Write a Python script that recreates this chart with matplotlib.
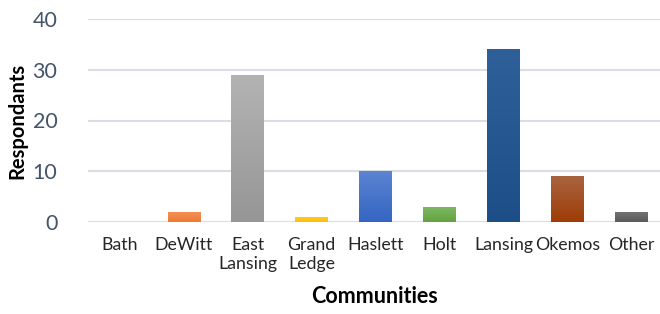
import numpy as np
import matplotlib
matplotlib.use("Agg")
import matplotlib.pyplot as plt
from matplotlib.colors import LinearSegmentedColormap

# data
communities = ["Bath", "DeWitt", "East\nLansing", "Grand\nLedge", "Haslett",
               "Holt", "Lansing", "Okemos", "Other"]
respondants = [0, 2, 29, 1, 10, 3, 34, 9, 2]

# top / bottom colours of each bar's gradient
top_colors = ["#5B9BD5", "#F4915A", "#B3B3B3", "#FFCA28", "#5C84D2",
              "#80B965", "#2F6099", "#AA6440", "#747474"]
bottom_colors = ["#4472C4", "#ED7A31", "#969696", "#FFC000", "#3465C3",
                 "#62A33F", "#1D4E88", "#9E3C06", "#5A5A5A"]

plt.rcParams['font.family'] = ['Lato', 'DejaVu Sans']

fig = plt.figure(figsize=(6.6, 3.14), dpi=100)
ax = fig.add_axes([88 / 660, 1 - 222 / 314, 1 - 88 / 660, 203 / 314])

x = np.arange(len(communities))
bars = ax.bar(x, respondants, width=0.51, color="none", zorder=3)

# vertical gradient inside each bar
grad = np.linspace(1, 0, 256).reshape(-1, 1)
for b, c1, c2 in zip(bars, top_colors, bottom_colors):
    h = b.get_height()
    if h <= 0:
        continue
    cmap = LinearSegmentedColormap.from_list("g", [c2, c1])
    x0 = b.get_x()
    im = ax.imshow(grad, cmap=cmap, aspect="auto", zorder=3,
                   extent=[x0, x0 + b.get_width(), 0, h], origin="upper")
    im.set_clip_path(b)

ax.set_xlim(-0.5, 8.45)
ax.set_ylim(0, 40)
ax.set_yticks([0, 10, 20, 30, 40])
ax.set_xticks(x)
ax.set_xticklabels(communities, fontsize=12.8, color="#262626", linespacing=1.2)
ax.tick_params(axis="y", labelsize=15.5, labelcolor="#44546A", length=0, pad=22)
ax.tick_params(axis="x", length=0, pad=11)

ax.grid(axis="y", color="#D9DEE5", linewidth=1.5, zorder=0)
ax.set_axisbelow(True)
for s in ax.spines.values():
    s.set_visible(False)

ax.set_ylabel("Respondants", fontsize=14.5, fontweight="bold", color="black", labelpad=4)
ax.set_xlabel("Communities", fontsize=15.5, fontweight="bold", color="black", labelpad=10)

fig.savefig("out.png", dpi=100)
